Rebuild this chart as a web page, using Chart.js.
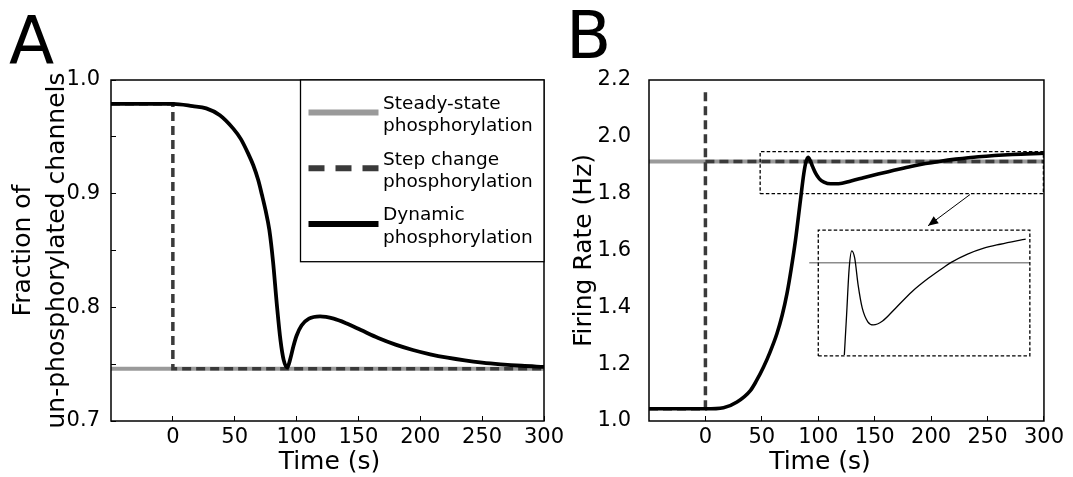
<!DOCTYPE html>
<html>
<head>
<meta charset="utf-8">
<script src="https://cdn.jsdelivr.net/npm/chart.js@4.4.1/dist/chart.umd.min.js"></script>
<style>
html, body { margin: 0; padding: 0; background: #fff; }
#wrap { position: relative; width: 1073px; height: 477px; overflow: hidden; }
#panelA { position: absolute; left: 0; top: 0; }
#panelB { position: absolute; left: 560px; top: 0; }
</style>
</head>
<body>
<div id="wrap">
  <canvas id="panelA" width="580" height="477"></canvas>
  <canvas id="panelB" width="513" height="477"></canvas>
</div>
<script>
// values
const timeTicks = [0, 50, 100, 150, 200, 250, 300];

// panel A - fraction of un-phosphorylated channels
const fracTicks = [0.7, 0.75, 0.8, 0.85, 0.9, 0.95, 1.0];
const fracTickLabels = ['0.7', '', '0.8', '', '0.9', '', '1.0'];
const legendLabels = ['Steady-state\nphosphorylation', 'Step change\nphosphorylation', 'Dynamic\nphosphorylation'];

const steadyTimeA = [-50, 300];
const steadyA = [0.746, 0.746];
const stepTimeA = [-50, 0, 0, 300];
const stepA = [0.979, 0.979, 0.746, 0.746];
const timeA = [-50, 0, 16, 27, 38, 49, 55, 61, 65, 69, 72, 75, 78, 81, 84, 87, 89.5, 92.5, 95, 97.5,
  100, 104, 110, 119, 130, 140, 152, 166, 180, 194, 208, 222, 236, 250, 265, 282, 300];
const dynamicA = [0.979, 0.979, 0.977, 0.975, 0.969, 0.957, 0.948, 0.935, 0.925, 0.912, 0.899, 0.885, 0.868, 0.840, 0.803, 0.771, 0.754, 0.747, 0.755, 0.766,
  0.775, 0.784, 0.790, 0.792, 0.790, 0.786, 0.780, 0.773, 0.7672, 0.7625, 0.7587, 0.7557, 0.7533, 0.7514, 0.7499, 0.7486, 0.7476];

// panel B - firing rate
const rateTicks = [1.0, 1.2, 1.4, 1.6, 1.8, 2.0, 2.2];
const steadyTimeB = [-50, 300];
const steadyB = [1.913, 1.913];
const stepTimeB = [-50, 0, 0, 0, 0, 300];
const stepB = [1.043, 1.043, 2.174, null, 1.913, 1.913];
const timeB = [-50, 0, 16, 28, 40, 45, 51.5, 57, 63.4, 68, 72.3, 76, 79.8, 84.2, 87.2, 89, 91, 93, 95, 97.6,
  101, 105, 111, 118, 129, 140, 153, 167, 182, 195, 207, 222, 242, 272, 300];
const dynamicB = [1.043, 1.043, 1.047, 1.067, 1.108, 1.140, 1.190, 1.240, 1.308, 1.372, 1.449, 1.535, 1.636, 1.777, 1.871, 1.910, 1.928, 1.915, 1.895, 1.872,
  1.852, 1.841, 1.835, 1.835, 1.845, 1.856, 1.869, 1.882, 1.896, 1.906, 1.9135, 1.9215, 1.930, 1.938, 1.942];

// zoom box, arrow and magnified inset (panel B data units)
const zoomRectT = [48.5, 299.5, 299.5, 48.5, 48.5];
const zoomRectV = [1.80, 1.80, 1.948, 1.948, 1.80];
const arrowT = [234.5, 197.3];
const arrowV = [1.797, 1.687];
const insetBoxT = [100, 287.5, 287.5, 100, 100];
const insetBoxV = [1.229, 1.229, 1.672, 1.672, 1.229];
const insetSteadyT = [92, 287.5];
const insetSteadyV = [1.557, 1.557];
const insetCurveT = [123.1, 125.1, 127.4, 129.7, 132.3, 135.3, 139, 143.9, 148.8, 157, 168.5, 183, 197.5, 212, 217.8, 232.3, 246.7, 261.2, 275.7, 283.8];
const insetCurveV = [1.232, 1.373, 1.538, 1.599, 1.573, 1.479, 1.397, 1.349, 1.338, 1.352, 1.397, 1.455, 1.502, 1.543, 1.558, 1.587, 1.608, 1.622, 1.634, 1.640];

const FONT = "'DejaVu Sans', sans-serif";
Chart.defaults.font.family = FONT;
Chart.defaults.color = '#000';

const gray = '#9a9a9a';
const darkGray = '#3a3a3a';

function pts(xs, ys) {
  return xs.map((x, i) => ({ x: x, y: ys[i] }));
}

function line(label, xs, ys, color, width, extra) {
  return Object.assign({
    label: label,
    data: pts(xs, ys),
    showLine: true,
    borderColor: color,
    backgroundColor: color,
    borderWidth: width,
    pointRadius: 0,
    pointHoverRadius: 0,
    spanGaps: false
  }, extra || {});
}

// frame, panel letter and axis titles
const decor = {
  id: 'decor',
  afterDraw(chart, args, o) {
    const ctx = chart.ctx;
    const a = chart.chartArea;
    ctx.save();
    ctx.strokeStyle = '#000';
    ctx.lineWidth = 1.5;
    ctx.strokeRect(a.left, a.top, a.right - a.left, a.bottom - a.top);

    ctx.fillStyle = '#000';
    ctx.textBaseline = 'alphabetic';
    ctx.textAlign = 'left';
    ctx.font = '66px ' + FONT;
    ctx.fillText(o.letter, o.letterX, o.letterY);

    ctx.font = '25px ' + FONT;
    ctx.textAlign = 'center';
    ctx.fillText(o.xTitle, (a.left + a.right) / 2 + o.xTitleDx, o.xTitleY);

    ctx.translate(o.yTitleX, (a.top + a.bottom) / 2);
    ctx.rotate(-Math.PI / 2);
    o.yTitle.forEach((t, i) => ctx.fillText(t, 0, i * 34.5));
    ctx.restore();
  }
};

// boxed legend in the upper right of panel A
const boxLegend = {
  id: 'boxLegend',
  afterDraw(chart, args, o) {
    if (!o.show) return;
    const ctx = chart.ctx;
    const a = chart.chartArea;
    const x0 = o.left, y0 = a.top, x1 = a.right, y1 = o.bottom;
    ctx.save();
    ctx.fillStyle = '#fff';
    ctx.fillRect(x0, y0, x1 - x0, y1 - y0);
    ctx.strokeStyle = '#000';
    ctx.lineWidth = 1.3;
    ctx.strokeRect(x0, y0, x1 - x0, y1 - y0);
    const items = chart.data.datasets.filter(d => d.inLegend);
    items.forEach((d, i) => {
      const sy = 112.5 + 55.8 * i;
      ctx.beginPath();
      ctx.setLineDash(d.borderDash ? [16, 11] : []);
      ctx.strokeStyle = d.borderColor;
      ctx.lineWidth = 6;
      ctx.moveTo(x0 + 8, sy);
      ctx.lineTo(x0 + 78, sy);
      ctx.stroke();
      ctx.setLineDash([]);
      ctx.fillStyle = '#000';
      ctx.font = '18.5px ' + FONT;
      ctx.textAlign = 'left';
      ctx.textBaseline = 'alphabetic';
      d.label.split('\n').forEach((t, j) => {
        ctx.fillText(t, x0 + 82.5, 108.7 + 55.8 * i + 22.2 * j);
      });
    });
    ctx.restore();
  }
};

// arrow from the zoom box to the inset
const arrow = {
  id: 'arrow',
  afterDatasetsDraw(chart, args, o) {
    if (!o.t) return;
    const xs = chart.scales.x, ys = chart.scales.y, ctx = chart.ctx;
    const x0 = xs.getPixelForValue(o.t[0]), y0 = ys.getPixelForValue(o.v[0]);
    const x1 = xs.getPixelForValue(o.t[1]), y1 = ys.getPixelForValue(o.v[1]);
    const ang = Math.atan2(y1 - y0, x1 - x0);
    ctx.save();
    ctx.strokeStyle = '#000';
    ctx.fillStyle = '#000';
    ctx.lineWidth = 1;
    ctx.beginPath();
    ctx.moveTo(x0, y0);
    ctx.lineTo(x1, y1);
    ctx.stroke();
    ctx.beginPath();
    ctx.moveTo(x1, y1);
    ctx.lineTo(x1 - 11 * Math.cos(ang - 0.4), y1 - 11 * Math.sin(ang - 0.4));
    ctx.lineTo(x1 - 11 * Math.cos(ang + 0.4), y1 - 11 * Math.sin(ang + 0.4));
    ctx.closePath();
    ctx.fill();
    ctx.restore();
  }
};

function timeAxis() {
  return {
    type: 'linear',
    min: -50,
    max: 300,
    afterBuildTicks: s => { s.ticks = timeTicks.map(v => ({ value: v })); },
    afterFit: s => { s.height = 56; },
    ticks: { font: { size: 21 }, padding: 9, maxRotation: 0, autoSkip: false, callback: v => String(v) },
    grid: { display: true, drawOnChartArea: false, drawTicks: true, tickLength: -5, tickColor: '#000', tickWidth: 1 },
    border: { display: false }
  };
}

new Chart(document.getElementById('panelA'), {
  type: 'scatter',
  data: {
    datasets: [
      line(legendLabels[0], steadyTimeA, steadyA, gray, 4, { order: 3, inLegend: true }),
      line(legendLabels[1], stepTimeA, stepA, darkGray, 3.5, { order: 2, inLegend: true, borderDash: [9, 5] }),
      line(legendLabels[2], timeA, dynamicA, '#000', 3.8, { order: 1, inLegend: true, cubicInterpolationMode: 'monotone' })
    ]
  },
  options: {
    responsive: false,
    animation: false,
    devicePixelRatio: 1,
    layout: { padding: { left: 0, top: 80, right: 36, bottom: 0 } },
    plugins: {
      legend: { display: false },
      tooltip: { enabled: false },
      decor: { letter: 'A', letterX: 9, letterY: 63, xTitle: 'Time (s)', xTitleDx: 2, xTitleY: 469,
        yTitle: ['Fraction of', 'un-phosphorylated channels'], yTitleX: 29.5 },
      boxLegend: { show: true, left: 300.5, bottom: 261.7 }
    },
    scales: {
      x: timeAxis(),
      y: {
        min: 0.7,
        max: 1.0,
        afterBuildTicks: s => { s.ticks = fracTicks.map(v => ({ value: v })); },
        afterFit: s => { s.width = 111; },
        ticks: { font: { size: 21 }, padding: 16, autoSkip: false, callback: (v, i) => fracTickLabels[i] },
        grid: { display: true, drawOnChartArea: false, drawTicks: true, tickLength: -5, tickColor: '#000', tickWidth: 1 },
        border: { display: false }
      }
    }
  },
  plugins: [decor, boxLegend]
});

new Chart(document.getElementById('panelB'), {
  type: 'scatter',
  data: {
    datasets: [
      line('Steady-state', steadyTimeB, steadyB, gray, 4, { order: 4 }),
      line('Step change', stepTimeB, stepB, darkGray, 3.5, { order: 3, borderDash: [9, 5] }),
      line('Dynamic', timeB, dynamicB, '#000', 3.6, { order: 2, cubicInterpolationMode: 'monotone' }),
      line('Zoom region', zoomRectT, zoomRectV, '#000', 1.3, { order: 1, borderDash: [3.5, 2.2] }),
      line('Inset frame', insetBoxT, insetBoxV, '#000', 1.3, { order: 1, borderDash: [3.5, 2.2] }),
      line('Inset steady-state', insetSteadyT, insetSteadyV, '#8c8c8c', 1.5, { order: 1 }),
      line('Inset dynamic', insetCurveT, insetCurveV, '#000', 1.3, { order: 0, cubicInterpolationMode: 'monotone' })
    ]
  },
  options: {
    responsive: false,
    animation: false,
    devicePixelRatio: 1,
    layout: { padding: { left: 0, top: 80, right: 22, bottom: 0 } },
    plugins: {
      legend: { display: false },
      tooltip: { enabled: false },
      decor: { letter: 'B', letterX: 6, letterY: 58, xTitle: 'Time (s)', xTitleDx: -26.5, xTitleY: 469,
        yTitle: ['Firing Rate (Hz)'], yTitleX: 31 },
      arrow: { t: arrowT, v: arrowV }
    },
    scales: {
      x: timeAxis(),
      y: {
        min: 1.0,
        max: 2.2,
        afterBuildTicks: s => { s.ticks = rateTicks.map(v => ({ value: v })); },
        afterFit: s => { s.width = 89; },
        ticks: { font: { size: 21 }, padding: 10, autoSkip: false, callback: v => v.toFixed(1) },
        grid: { display: false },
        border: { display: false }
      }
    }
  },
  plugins: [decor, arrow]
});
</script>
</body>
</html>
